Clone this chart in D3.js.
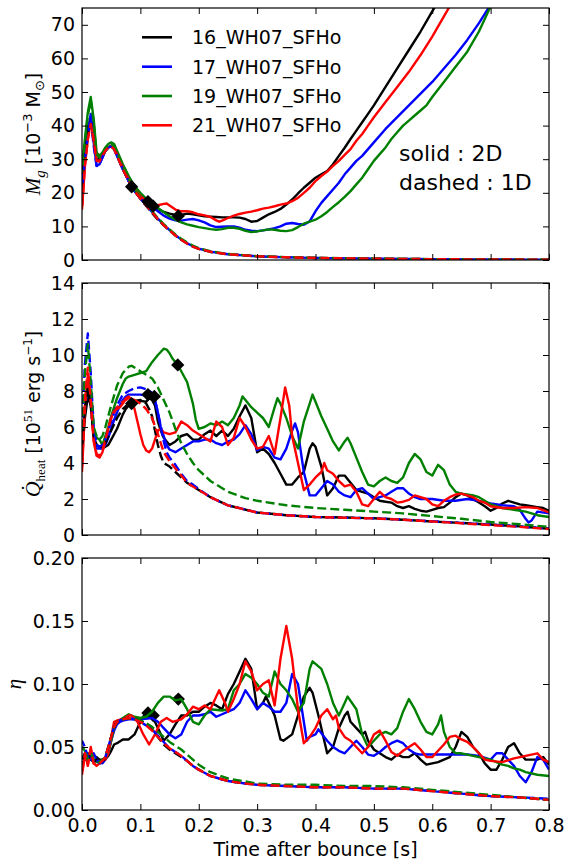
<!DOCTYPE html>
<html><head><meta charset="utf-8">
<script src="https://cdn.jsdelivr.net/npm/d3@7"></script>
<style>
body{margin:0;background:#fff;}
svg{display:block;font-family:"DejaVu Sans",sans-serif;}
</style></head><body>
<svg id="chart" width="565" height="862"></svg>
<script>
// ---------- data ----------
const models = ["16_WH07_SFHo", "17_WH07_SFHo", "19_WH07_SFHo", "21_WH07_SFHo"];
const colors = ["#000000", "#0000ff", "#008000", "#ff0000"];

const xTicks = [0, 0.1, 0.2, 0.3, 0.4, 0.5, 0.6, 0.7, 0.8];
const mgTicks = [0, 10, 20, 30, 40, 50, 60, 70];
const qTicks = [0, 2, 4, 6, 8, 10, 12, 14];
const etaTicks = [0, 0.05, 0.10, 0.15, 0.20];

// Gain mass M_g [1e-3 Msun], 2D runs
const mg2D_16 = [[0,25],[0.005,33],[0.01,39],[0.015,42],[0.02,36],[0.025,30],[0.03,30],[0.035,31],[0.04,32.5],[0.045,33.5],[0.05,34],[0.055,33.5],[0.06,31.5],[0.07,27.5],[0.08,23.5],[0.085,22],[0.09,20.8],[0.1,19],[0.11,17.8],[0.115,17],[0.12,16.3],[0.13,15.2],[0.14,14.3],[0.15,13.8],[0.16,13.4],[0.165,13.2],[0.17,13.4],[0.18,13.8],[0.19,13.6],[0.2,13.3],[0.21,13],[0.22,12.9],[0.23,12.8],[0.24,12.7],[0.25,12.7],[0.26,12.7],[0.27,12.6],[0.28,12.2],[0.29,11.4],[0.3,11.6],[0.31,12.6],[0.32,13.6],[0.33,14.3],[0.34,15.2],[0.35,16.5],[0.36,18],[0.37,19.8],[0.38,21.5],[0.39,23],[0.4,24.5],[0.41,25.5],[0.42,26.5],[0.43,28.5],[0.44,31],[0.45,33.4],[0.46,36],[0.47,38.5],[0.48,41],[0.49,43.5],[0.5,46],[0.52,51.5],[0.54,57],[0.56,62.5],[0.58,68],[0.6,74],[0.61,77]];
const mg2D_17 = [[0,22],[0.005,30],[0.01,38],[0.015,43.5],[0.02,35],[0.025,28],[0.03,28.5],[0.035,30.5],[0.04,32.5],[0.045,33.5],[0.05,34],[0.055,33],[0.06,31],[0.07,27],[0.08,23.5],[0.09,20.5],[0.1,18.5],[0.11,17],[0.12,16],[0.13,14.5],[0.14,13.2],[0.15,12.3],[0.16,11.8],[0.17,11.7],[0.18,12],[0.19,12.2],[0.2,11.8],[0.21,11.2],[0.22,10.3],[0.23,9.8],[0.24,9.9],[0.25,10],[0.26,10],[0.27,9.6],[0.28,9],[0.29,8.7],[0.3,8.6],[0.31,8.8],[0.32,9.1],[0.33,9.5],[0.34,10],[0.35,10.8],[0.36,11],[0.37,10.7],[0.38,10.5],[0.39,11.5],[0.4,14.5],[0.41,17],[0.42,19],[0.43,21],[0.44,23],[0.45,25.5],[0.46,27.5],[0.47,29.5],[0.48,31],[0.49,33],[0.5,35],[0.52,39],[0.54,42.5],[0.56,46],[0.58,49.5],[0.6,53],[0.62,57],[0.64,61],[0.66,65.5],[0.68,70.5],[0.7,76]];
const mg2D_19 = [[0,28],[0.005,36],[0.01,44],[0.015,48.5],[0.02,42],[0.025,32],[0.03,31],[0.035,32],[0.04,33.5],[0.045,34.5],[0.05,35],[0.055,34.5],[0.06,32.5],[0.07,28.5],[0.08,25],[0.09,22],[0.1,20],[0.11,18.2],[0.12,16.8],[0.13,15.5],[0.14,14.2],[0.15,13],[0.16,12],[0.17,11.2],[0.18,10.6],[0.19,10.2],[0.2,9.8],[0.21,9.5],[0.22,9.2],[0.23,9],[0.24,9.2],[0.25,9.6],[0.26,9.6],[0.27,9.3],[0.28,8.7],[0.29,8.3],[0.3,8.5],[0.31,8.8],[0.32,9.1],[0.33,9],[0.34,8.7],[0.35,8.6],[0.36,8.9],[0.37,9.8],[0.38,10.8],[0.39,11.4],[0.4,12],[0.41,13],[0.42,14.3],[0.43,15.8],[0.44,17.2],[0.45,18.8],[0.46,20.5],[0.47,22.5],[0.48,24.5],[0.49,27],[0.5,29.5],[0.51,31.5],[0.52,33.5],[0.53,36],[0.54,38],[0.55,40],[0.56,41.5],[0.57,43],[0.58,44.5],[0.59,46],[0.6,48.5],[0.62,53],[0.64,57.5],[0.66,62],[0.68,68],[0.7,75.5]];
const mg2D_21 = [[0,15],[0.005,28],[0.01,36],[0.015,41],[0.02,36],[0.025,30],[0.03,29.5],[0.035,31],[0.04,32.5],[0.045,33.5],[0.05,34],[0.055,33.5],[0.06,31.5],[0.07,27.5],[0.08,24],[0.09,21],[0.1,19],[0.11,17.5],[0.12,16.5],[0.13,16.3],[0.14,16.7],[0.145,16.8],[0.15,16.2],[0.16,15],[0.17,14.5],[0.18,14.5],[0.19,14.2],[0.2,13.6],[0.21,13.3],[0.22,12.8],[0.23,11.8],[0.235,11.4],[0.24,11.7],[0.25,12.5],[0.26,13.2],[0.27,13.7],[0.28,14.1],[0.29,14.4],[0.3,14.8],[0.31,15.3],[0.32,15.6],[0.33,16],[0.34,16.5],[0.35,16.8],[0.36,17.5],[0.37,18.5],[0.38,20],[0.39,21.5],[0.4,23.5],[0.41,25],[0.42,26.3],[0.43,28],[0.44,29.5],[0.45,31.3],[0.46,33],[0.47,35.5],[0.48,37.5],[0.49,40],[0.5,42.5],[0.52,47],[0.54,51.5],[0.56,56],[0.58,61],[0.6,66.5],[0.62,72.5],[0.63,75.5]];

// Gain mass, 1D runs
const mg1D_16 = [[0,22],[0.005,31],[0.01,38],[0.015,41.5],[0.02,35.5],[0.025,29.5],[0.03,29.5],[0.035,31],[0.04,32.5],[0.045,33.5],[0.05,33.8],[0.055,33],[0.06,31],[0.07,27],[0.08,23.5],[0.09,20.5],[0.1,18.2],[0.11,16.1],[0.12,14],[0.13,12],[0.14,10.3],[0.15,8.8],[0.16,7.3],[0.17,6],[0.18,4.9],[0.19,4],[0.2,3.3],[0.22,2.4],[0.25,1.7],[0.3,1.1],[0.35,0.8],[0.4,0.6],[0.5,0.4],[0.6,0.25],[0.7,0.15],[0.8,0.1]];
const mg1D_17 = [[0,20],[0.005,30],[0.01,37],[0.015,42],[0.02,34],[0.025,28],[0.03,28.5],[0.035,30.5],[0.04,32.5],[0.045,33.5],[0.05,33.8],[0.055,33],[0.06,31],[0.07,27],[0.08,23.5],[0.09,20.5],[0.1,18.3],[0.11,16.3],[0.12,14.3],[0.13,12.3],[0.14,10.5],[0.15,8.9],[0.16,7.4],[0.17,6.1],[0.18,5],[0.19,4.1],[0.2,3.4],[0.22,2.5],[0.25,1.7],[0.3,1.1],[0.35,0.8],[0.4,0.6],[0.5,0.4],[0.6,0.25],[0.7,0.15],[0.8,0.1]];
const mg1D_19 = [[0,26],[0.005,35],[0.01,43],[0.015,47.5],[0.02,41],[0.025,31.5],[0.03,30.5],[0.035,31.8],[0.04,33.2],[0.045,34.2],[0.05,34.5],[0.055,33.8],[0.06,31.8],[0.07,27.8],[0.08,24],[0.09,21],[0.1,18.6],[0.11,16.5],[0.12,14.5],[0.13,12.5],[0.14,10.7],[0.15,9.1],[0.16,7.6],[0.17,6.3],[0.18,5.2],[0.19,4.3],[0.2,3.5],[0.22,2.6],[0.25,1.8],[0.3,1.15],[0.35,0.85],[0.4,0.65],[0.5,0.42],[0.6,0.27],[0.7,0.16],[0.8,0.1]];
const mg1D_21 = [[0,15],[0.005,28],[0.01,36],[0.015,40.5],[0.02,35.5],[0.025,29.5],[0.03,29.3],[0.035,31],[0.04,32.5],[0.045,33.5],[0.05,33.8],[0.055,33],[0.06,31],[0.07,27],[0.08,23.5],[0.09,20.5],[0.1,18.3],[0.11,16.3],[0.12,14.2],[0.13,12.2],[0.14,10.4],[0.15,8.8],[0.16,7.3],[0.17,6],[0.18,4.9],[0.19,4],[0.2,3.3],[0.22,2.45],[0.25,1.7],[0.3,1.1],[0.35,0.8],[0.4,0.6],[0.5,0.4],[0.6,0.25],[0.7,0.15],[0.8,0.1]];

// Heating rate [1e51 erg/s], 2D runs
const q2D_16 = [[0,4.5],[0.005,6.5],[0.01,7.7],[0.015,7.2],[0.02,5.5],[0.025,5],[0.03,4.9],[0.035,4.8],[0.04,4.9],[0.045,5],[0.05,5.3],[0.055,5.6],[0.06,5.9],[0.065,6.3],[0.07,6.7],[0.075,7],[0.08,7.2],[0.085,7.3],[0.09,7.4],[0.1,7.45],[0.11,7.4],[0.115,7.6],[0.12,7.5],[0.125,7.2],[0.13,6.3],[0.135,5.8],[0.14,5.4],[0.145,5.2],[0.15,5],[0.16,5.2],[0.17,5.5],[0.18,5.6],[0.19,5.3],[0.2,5.3],[0.21,5.6],[0.22,5.8],[0.23,5.5],[0.24,5.8],[0.25,5.5],[0.26,5.9],[0.27,6.6],[0.28,7.2],[0.29,6.5],[0.3,4.6],[0.31,4.8],[0.32,4.5],[0.33,4],[0.34,3.4],[0.35,2.8],[0.36,2.8],[0.37,3.2],[0.38,3.5],[0.39,4.8],[0.395,5.1],[0.4,4.9],[0.41,3.8],[0.42,2.2],[0.43,2.6],[0.44,3.3],[0.45,3.3],[0.46,2.9],[0.47,2.5],[0.48,2.4],[0.49,2.3],[0.5,2.1],[0.51,1.9],[0.52,1.85],[0.53,1.8],[0.54,1.6],[0.55,1.5],[0.56,1.6],[0.57,1.45],[0.58,1.35],[0.59,1.3],[0.6,1.4],[0.61,1.5],[0.62,1.55],[0.63,1.8],[0.64,2.1],[0.65,2.3],[0.66,2.2],[0.67,2],[0.68,1.8],[0.69,1.6],[0.7,1.35],[0.71,1.5],[0.72,1.75],[0.73,1.9],[0.74,1.8],[0.75,1.7],[0.76,1.65],[0.77,1.6],[0.78,1.55],[0.79,1.5],[0.8,1.35]];
const q2D_17 = [[0,5],[0.005,7],[0.01,8.3],[0.015,7.5],[0.02,5.5],[0.025,4.8],[0.03,4.8],[0.035,4.8],[0.04,5],[0.045,5.4],[0.05,5.9],[0.055,6.4],[0.06,6.8],[0.065,7.2],[0.07,7.5],[0.075,7.7],[0.08,7.8],[0.09,7.8],[0.1,7.8],[0.11,7.75],[0.12,7.7],[0.125,7.5],[0.13,6.8],[0.135,6],[0.14,5.5],[0.145,5],[0.15,4.75],[0.16,4.6],[0.17,4.8],[0.18,5],[0.19,5.2],[0.2,5.2],[0.21,5.3],[0.22,5.3],[0.23,5.1],[0.24,5],[0.25,5.2],[0.26,5.3],[0.27,5.6],[0.28,6.1],[0.29,5.6],[0.3,4.7],[0.31,4.9],[0.32,4.8],[0.33,4.3],[0.34,4.2],[0.35,4.8],[0.36,5.8],[0.365,6.2],[0.37,5.7],[0.38,3.5],[0.39,2.2],[0.4,2.2],[0.41,2.6],[0.42,3],[0.43,2.8],[0.44,2.4],[0.45,2.2],[0.46,2.1],[0.47,2.5],[0.48,2.6],[0.49,2.3],[0.5,2],[0.51,2.1],[0.52,2.2],[0.53,2.4],[0.54,2.6],[0.55,2.6],[0.56,2.3],[0.57,2.1],[0.58,2],[0.6,2],[0.62,1.9],[0.64,1.9],[0.66,2],[0.68,1.9],[0.7,1.75],[0.72,1.65],[0.74,1.6],[0.75,1.4],[0.76,0.9],[0.765,0.7],[0.77,0.8],[0.78,1.3],[0.8,1.2]];
const q2D_19 = [[0,4.8],[0.005,7],[0.01,8.6],[0.015,7.5],[0.02,5.8],[0.025,5.4],[0.03,5.3],[0.035,5],[0.04,5.5],[0.045,6],[0.05,6.6],[0.055,7.1],[0.06,7.6],[0.065,8],[0.07,8.4],[0.075,8.7],[0.08,8.8],[0.09,8.9],[0.1,9],[0.11,9.1],[0.12,9.6],[0.13,10],[0.14,10.35],[0.145,10.3],[0.15,10.1],[0.155,9.8],[0.165,9.4],[0.17,9.1],[0.18,8.5],[0.19,7.3],[0.195,6.4],[0.2,5.9],[0.21,6],[0.22,6.2],[0.23,6.1],[0.24,6.3],[0.25,6.1],[0.26,6.5],[0.27,7.2],[0.275,7.7],[0.28,7.5],[0.29,7.1],[0.3,6.8],[0.31,6.5],[0.32,6],[0.33,7.1],[0.335,7.6],[0.34,7.3],[0.35,6.5],[0.36,5.5],[0.37,4.8],[0.38,6.3],[0.39,7.3],[0.395,7.8],[0.4,7.4],[0.41,6.6],[0.42,5.9],[0.43,5.2],[0.44,4.7],[0.45,5.2],[0.455,5.4],[0.46,5.1],[0.47,4.3],[0.48,3.5],[0.49,2.8],[0.5,2.7],[0.51,3],[0.52,3.2],[0.53,3],[0.54,2.9],[0.55,3.2],[0.56,4],[0.57,4.5],[0.58,4.2],[0.59,3.5],[0.6,3.3],[0.61,3.9],[0.62,3.6],[0.63,2.8],[0.64,2.4],[0.65,2.3],[0.66,2.25],[0.67,2.2],[0.68,2.1],[0.69,1.9],[0.7,1.7],[0.72,1.5],[0.74,1.4],[0.76,1.3],[0.78,1.1],[0.8,1]];
const q2D_21 = [[0,3.5],[0.005,7],[0.01,8.9],[0.015,7.5],[0.02,5.2],[0.025,4.4],[0.03,4.3],[0.035,4.6],[0.04,5.2],[0.045,5.9],[0.05,6.5],[0.055,6.9],[0.06,7],[0.065,7.1],[0.07,7.3],[0.075,7.6],[0.08,7.7],[0.085,7.5],[0.09,7],[0.095,6.3],[0.1,5.6],[0.105,5],[0.11,4.7],[0.115,4.6],[0.12,4.8],[0.125,5.3],[0.13,5.8],[0.135,5.9],[0.14,5.7],[0.15,5.6],[0.16,5.7],[0.17,6.3],[0.18,6.1],[0.19,5.8],[0.2,5.6],[0.21,5.4],[0.22,5.2],[0.23,6.3],[0.24,6],[0.25,5],[0.26,5.4],[0.27,6.5],[0.28,6],[0.29,5.3],[0.3,4.8],[0.31,4.9],[0.32,5.5],[0.33,4.5],[0.34,6.5],[0.348,8.2],[0.355,7.2],[0.36,5.5],[0.37,4],[0.38,2.5],[0.39,2.8],[0.4,3.2],[0.41,3.5],[0.415,4],[0.42,3.6],[0.43,3.4],[0.44,3],[0.45,2.7],[0.46,2.8],[0.47,2.4],[0.48,1.7],[0.49,1.6],[0.5,2],[0.51,2.4],[0.52,2.1],[0.53,2],[0.54,1.8],[0.55,1.85],[0.56,1.95],[0.57,2.2],[0.58,2.1],[0.59,2],[0.6,1.7],[0.61,1.6],[0.62,1.9],[0.63,2.1],[0.64,2.25],[0.65,2.3],[0.66,2.2],[0.67,2.1],[0.68,1.9],[0.69,1.8],[0.7,1.6],[0.72,1.5],[0.74,1.5],[0.76,1.55],[0.78,1.5],[0.8,1.25]];

// Heating rate, 1D runs
const q1D_16 = [[0,4.8],[0.005,7],[0.01,8.2],[0.015,7.2],[0.02,5.5],[0.025,5],[0.03,4.9],[0.035,4.9],[0.04,5.1],[0.05,5.8],[0.06,6.5],[0.07,7],[0.08,7.3],[0.09,7.45],[0.1,7.5],[0.11,7.3],[0.115,7],[0.12,6.6],[0.125,5.8],[0.13,5],[0.135,4.4],[0.14,4],[0.145,3.9],[0.15,3.8],[0.16,3.5],[0.17,3.2],[0.18,2.9],[0.19,2.7],[0.2,2.5],[0.22,2.1],[0.25,1.65],[0.3,1.25],[0.35,1.1],[0.4,1],[0.45,0.97],[0.5,0.93],[0.55,0.85],[0.6,0.75],[0.65,0.67],[0.7,0.58],[0.75,0.48],[0.8,0.35]];
const q1D_17 = [[0,6],[0.005,9.5],[0.01,11.2],[0.015,9],[0.02,6],[0.025,5],[0.03,4.9],[0.035,5],[0.04,5.3],[0.05,6.3],[0.06,7.2],[0.07,7.8],[0.08,8],[0.09,8.15],[0.1,8.2],[0.11,8.1],[0.12,7.9],[0.125,7.5],[0.13,6.8],[0.135,6],[0.14,5.2],[0.145,4.6],[0.15,4.3],[0.16,3.9],[0.17,3.4],[0.18,3],[0.19,2.8],[0.2,2.55],[0.22,2.1],[0.25,1.65],[0.3,1.25],[0.35,1.1],[0.4,1],[0.45,0.96],[0.5,0.93],[0.55,0.85],[0.6,0.76],[0.65,0.67],[0.7,0.58],[0.75,0.47],[0.8,0.36]];
const q1D_19 = [[0,5.5],[0.005,9],[0.01,10.6],[0.015,8.5],[0.02,6],[0.025,5.5],[0.03,5.3],[0.035,5.5],[0.04,6],[0.05,7.2],[0.06,8.3],[0.07,9],[0.08,9.35],[0.085,9.4],[0.09,9.3],[0.1,9.1],[0.11,8.9],[0.12,8.7],[0.13,8.2],[0.14,7.5],[0.15,6.8],[0.16,5.9],[0.17,5.1],[0.18,4.5],[0.19,4],[0.2,3.6],[0.22,3],[0.25,2.4],[0.28,2.05],[0.3,1.9],[0.35,1.65],[0.4,1.5],[0.45,1.4],[0.5,1.3],[0.55,1.2],[0.6,1.05],[0.65,0.9],[0.7,0.72],[0.75,0.6],[0.8,0.45]];
const q1D_21 = [[0,3.6],[0.005,7.5],[0.01,9.3],[0.015,7.5],[0.02,5.3],[0.025,4.5],[0.03,4.4],[0.035,4.7],[0.04,5.3],[0.05,6.5],[0.06,7.1],[0.07,7.4],[0.08,7.6],[0.09,7.5],[0.1,7.3],[0.11,7],[0.12,6.5],[0.13,5.6],[0.14,4.6],[0.15,4.1],[0.16,3.7],[0.17,3.3],[0.18,2.9],[0.19,2.7],[0.2,2.5],[0.22,2.1],[0.25,1.65],[0.3,1.25],[0.35,1.1],[0.4,1],[0.45,0.96],[0.5,0.92],[0.55,0.85],[0.6,0.75],[0.65,0.65],[0.7,0.55],[0.75,0.45],[0.8,0.33]];

// Heating efficiency eta, 2D runs
const eta2D_16 = [[0,0.037],[0.005,0.04],[0.01,0.045],[0.015,0.04],[0.02,0.038],[0.025,0.042],[0.03,0.04],[0.035,0.04],[0.04,0.04],[0.045,0.043],[0.05,0.047],[0.055,0.052],[0.06,0.053],[0.07,0.056],[0.08,0.056],[0.09,0.06],[0.1,0.07],[0.11,0.078],[0.12,0.075],[0.13,0.065],[0.14,0.055],[0.15,0.06],[0.16,0.068],[0.17,0.075],[0.18,0.075],[0.19,0.078],[0.2,0.078],[0.21,0.082],[0.22,0.085],[0.23,0.083],[0.24,0.08],[0.25,0.092],[0.26,0.1],[0.27,0.11],[0.28,0.12],[0.29,0.112],[0.3,0.08],[0.31,0.085],[0.315,0.09],[0.33,0.075],[0.34,0.056],[0.345,0.055],[0.36,0.06],[0.37,0.075],[0.38,0.09],[0.39,0.097],[0.395,0.093],[0.405,0.075],[0.415,0.055],[0.42,0.045],[0.43,0.05],[0.44,0.065],[0.45,0.075],[0.455,0.078],[0.46,0.07],[0.47,0.065],[0.48,0.06],[0.485,0.062],[0.49,0.055],[0.5,0.048],[0.51,0.045],[0.52,0.042],[0.53,0.04],[0.54,0.044],[0.55,0.042],[0.56,0.042],[0.57,0.045],[0.58,0.04],[0.59,0.036],[0.6,0.037],[0.61,0.038],[0.62,0.04],[0.63,0.042],[0.64,0.05],[0.65,0.062],[0.66,0.058],[0.67,0.05],[0.68,0.045],[0.69,0.037],[0.7,0.032],[0.71,0.032],[0.72,0.04],[0.73,0.05],[0.74,0.053],[0.75,0.045],[0.76,0.04],[0.78,0.04],[0.79,0.042],[0.8,0.036]];
const eta2D_17 = [[0,0.043],[0.005,0.04],[0.01,0.043],[0.015,0.04],[0.02,0.045],[0.025,0.04],[0.03,0.038],[0.035,0.037],[0.04,0.04],[0.045,0.045],[0.05,0.055],[0.055,0.063],[0.06,0.068],[0.065,0.07],[0.07,0.071],[0.08,0.072],[0.1,0.072],[0.12,0.073],[0.13,0.07],[0.14,0.065],[0.15,0.06],[0.16,0.057],[0.17,0.06],[0.18,0.07],[0.19,0.075],[0.2,0.075],[0.21,0.076],[0.22,0.078],[0.23,0.074],[0.24,0.076],[0.25,0.078],[0.26,0.08],[0.27,0.085],[0.28,0.095],[0.29,0.088],[0.3,0.08],[0.31,0.085],[0.32,0.082],[0.33,0.078],[0.34,0.078],[0.35,0.085],[0.36,0.108],[0.37,0.1],[0.38,0.07],[0.385,0.055],[0.39,0.058],[0.4,0.06],[0.405,0.064],[0.42,0.055],[0.43,0.05],[0.44,0.047],[0.45,0.045],[0.46,0.05],[0.47,0.055],[0.48,0.05],[0.49,0.044],[0.5,0.043],[0.51,0.046],[0.52,0.05],[0.53,0.053],[0.54,0.055],[0.55,0.053],[0.56,0.048],[0.57,0.045],[0.58,0.044],[0.6,0.044],[0.62,0.044],[0.64,0.044],[0.66,0.044],[0.68,0.043],[0.7,0.04],[0.71,0.045],[0.72,0.045],[0.73,0.04],[0.74,0.035],[0.75,0.027],[0.76,0.022],[0.77,0.03],[0.78,0.042],[0.79,0.04],[0.8,0.032]];
const eta2D_19 = [[0,0.05],[0.005,0.047],[0.01,0.04],[0.015,0.045],[0.02,0.04],[0.025,0.038],[0.03,0.038],[0.035,0.04],[0.04,0.041],[0.045,0.045],[0.05,0.055],[0.055,0.065],[0.06,0.07],[0.07,0.073],[0.08,0.076],[0.09,0.074],[0.1,0.073],[0.11,0.074],[0.12,0.078],[0.13,0.085],[0.14,0.09],[0.15,0.09],[0.16,0.087],[0.17,0.088],[0.18,0.08],[0.19,0.07],[0.2,0.068],[0.21,0.075],[0.22,0.08],[0.24,0.079],[0.25,0.08],[0.26,0.095],[0.27,0.1],[0.28,0.108],[0.29,0.105],[0.3,0.1],[0.31,0.093],[0.32,0.09],[0.33,0.11],[0.34,0.1],[0.35,0.095],[0.36,0.088],[0.37,0.078],[0.38,0.085],[0.39,0.112],[0.395,0.118],[0.41,0.112],[0.42,0.1],[0.43,0.085],[0.44,0.075],[0.45,0.085],[0.455,0.09],[0.47,0.08],[0.48,0.06],[0.49,0.05],[0.5,0.055],[0.51,0.06],[0.52,0.062],[0.53,0.06],[0.54,0.065],[0.55,0.078],[0.56,0.088],[0.57,0.08],[0.58,0.07],[0.59,0.062],[0.6,0.06],[0.61,0.068],[0.615,0.075],[0.62,0.062],[0.63,0.05],[0.64,0.045],[0.65,0.045],[0.66,0.044],[0.68,0.042],[0.7,0.04],[0.71,0.038],[0.72,0.036],[0.73,0.035],[0.74,0.033],[0.75,0.032],[0.76,0.03],[0.78,0.028],[0.8,0.027]];
const eta2D_21 = [[0,0.028],[0.005,0.045],[0.01,0.035],[0.015,0.05],[0.02,0.037],[0.025,0.035],[0.03,0.037],[0.035,0.04],[0.04,0.04],[0.045,0.045],[0.05,0.058],[0.055,0.07],[0.06,0.071],[0.07,0.072],[0.08,0.075],[0.085,0.075],[0.095,0.07],[0.105,0.06],[0.115,0.052],[0.125,0.06],[0.135,0.07],[0.145,0.073],[0.155,0.07],[0.17,0.072],[0.18,0.076],[0.19,0.082],[0.2,0.08],[0.21,0.083],[0.22,0.08],[0.23,0.09],[0.235,0.095],[0.245,0.085],[0.25,0.078],[0.26,0.088],[0.27,0.1],[0.28,0.118],[0.29,0.11],[0.3,0.095],[0.31,0.1],[0.32,0.103],[0.33,0.083],[0.34,0.12],[0.35,0.146],[0.36,0.12],[0.37,0.08],[0.38,0.053],[0.39,0.058],[0.4,0.065],[0.41,0.075],[0.42,0.08],[0.43,0.072],[0.435,0.075],[0.44,0.065],[0.45,0.058],[0.46,0.055],[0.47,0.05],[0.48,0.045],[0.49,0.05],[0.5,0.06],[0.51,0.063],[0.52,0.055],[0.53,0.046],[0.54,0.043],[0.55,0.047],[0.56,0.05],[0.57,0.053],[0.58,0.048],[0.59,0.042],[0.6,0.042],[0.61,0.047],[0.62,0.052],[0.63,0.058],[0.64,0.059],[0.65,0.056],[0.66,0.054],[0.67,0.05],[0.68,0.045],[0.69,0.04],[0.7,0.039],[0.72,0.038],[0.74,0.041],[0.76,0.043],[0.78,0.045],[0.79,0.04],[0.8,0.038]];

// Heating efficiency, 1D runs
const eta1D_16 = [[0,0.04],[0.005,0.045],[0.01,0.04],[0.015,0.045],[0.02,0.038],[0.025,0.04],[0.03,0.037],[0.035,0.038],[0.04,0.042],[0.045,0.05],[0.05,0.058],[0.055,0.066],[0.06,0.07],[0.07,0.072],[0.08,0.073],[0.09,0.072],[0.1,0.071],[0.11,0.068],[0.12,0.064],[0.13,0.058],[0.14,0.052],[0.15,0.048],[0.16,0.045],[0.17,0.042],[0.18,0.039],[0.19,0.035],[0.2,0.032],[0.22,0.027],[0.25,0.023],[0.28,0.021],[0.3,0.02],[0.35,0.019],[0.4,0.018],[0.45,0.018],[0.5,0.017],[0.55,0.017],[0.6,0.015],[0.65,0.013],[0.7,0.011],[0.75,0.01],[0.8,0.008]];
const eta1D_17 = [[0,0.055],[0.005,0.05],[0.01,0.042],[0.015,0.045],[0.02,0.038],[0.025,0.04],[0.03,0.037],[0.035,0.038],[0.04,0.042],[0.045,0.05],[0.05,0.058],[0.055,0.066],[0.06,0.07],[0.07,0.072],[0.08,0.073],[0.09,0.072],[0.1,0.07],[0.11,0.067],[0.12,0.064],[0.13,0.059],[0.14,0.054],[0.15,0.049],[0.16,0.046],[0.17,0.043],[0.18,0.039],[0.19,0.035],[0.2,0.032],[0.22,0.027],[0.25,0.023],[0.28,0.021],[0.3,0.02],[0.35,0.019],[0.4,0.018],[0.45,0.018],[0.5,0.017],[0.55,0.017],[0.6,0.015],[0.65,0.013],[0.7,0.011],[0.75,0.01],[0.8,0.009]];
const eta1D_19 = [[0,0.05],[0.005,0.047],[0.01,0.04],[0.015,0.045],[0.02,0.04],[0.025,0.038],[0.03,0.038],[0.035,0.04],[0.04,0.042],[0.045,0.05],[0.05,0.058],[0.055,0.066],[0.06,0.07],[0.07,0.072],[0.08,0.073],[0.09,0.072],[0.1,0.071],[0.11,0.069],[0.12,0.066],[0.13,0.062],[0.14,0.058],[0.15,0.054],[0.16,0.051],[0.17,0.048],[0.18,0.044],[0.19,0.04],[0.2,0.036],[0.22,0.03],[0.25,0.025],[0.3,0.021],[0.35,0.02],[0.4,0.02],[0.45,0.019],[0.5,0.019],[0.55,0.018],[0.6,0.016],[0.65,0.014],[0.7,0.012],[0.75,0.01],[0.8,0.008]];
const eta1D_21 = [[0,0.028],[0.005,0.045],[0.01,0.036],[0.015,0.048],[0.02,0.037],[0.025,0.036],[0.03,0.037],[0.035,0.039],[0.04,0.042],[0.045,0.05],[0.05,0.058],[0.055,0.066],[0.06,0.07],[0.07,0.072],[0.08,0.073],[0.09,0.072],[0.1,0.07],[0.11,0.067],[0.12,0.063],[0.13,0.058],[0.14,0.053],[0.15,0.049],[0.16,0.046],[0.17,0.043],[0.18,0.039],[0.19,0.035],[0.2,0.032],[0.22,0.027],[0.25,0.023],[0.28,0.021],[0.3,0.02],[0.35,0.019],[0.4,0.018],[0.45,0.018],[0.5,0.017],[0.55,0.017],[0.6,0.015],[0.65,0.013],[0.7,0.011],[0.75,0.01],[0.8,0.008]];

// Shock revival markers (time, value) per quantity
const mgMarkers = [[0.085, 21.8], [0.113, 17.4], [0.122, 16.0], [0.165, 13.1]];
const qMarkers = [[0.085, 7.3], [0.113, 7.8], [0.124, 7.7], [0.164, 9.45]];
const etaMarkers = [[0.113, 0.077], [0.122, 0.075], [0.165, 0.088]];

// ---------- layout ----------
const svg = d3.select("#chart");
const L = 82, R = 549;
const x = d3.scaleLinear().domain([0, 0.8]).range([L, R]);

const panels = [
  { top: 8,   bottom: 260, domain: [0, 75],  ticks: mgTicks,  fmt: d3.format("d"),
    solid: [mg2D_16, mg2D_17, mg2D_19, mg2D_21], dashed: [mg1D_16, mg1D_17, mg1D_19, mg1D_21],
    markers: mgMarkers, markersOnTop: true },
  { top: 283, bottom: 535, domain: [0, 14],  ticks: qTicks,   fmt: d3.format("d"),
    solid: [q2D_16, q2D_17, q2D_19, q2D_21], dashed: [q1D_16, q1D_17, q1D_19, q1D_21],
    markers: qMarkers, markersOnTop: true },
  { top: 558, bottom: 810, domain: [0, 0.2], ticks: etaTicks, fmt: d3.format(".2f"),
    solid: [eta2D_16, eta2D_17, eta2D_19, eta2D_21], dashed: [eta1D_16, eta1D_17, eta1D_19, eta1D_21],
    markers: etaMarkers, markersOnTop: false }
];

const FS = 19;
const diamond = d3.symbol().type(d3.symbolSquare).size(88);

panels.forEach((p, i) => {
  const y = d3.scaleLinear().domain(p.domain).range([p.bottom, p.top]);
  const g = svg.append("g");
  const clipId = "clip" + i;
  svg.append("clipPath").attr("id", clipId).append("rect")
    .attr("x", L).attr("y", p.top).attr("width", R - L).attr("height", p.bottom - p.top);

  const line = d3.line().x(d => x(d[0])).y(d => y(d[1]));
  const plot = g.append("g").attr("clip-path", `url(#${clipId})`);

  const drawMarkers = () => {
    plot.selectAll(null).data(p.markers).join("path")
      .attr("d", diamond)
      .attr("transform", d => `translate(${x(d[0])},${y(d[1])}) rotate(45)`)
      .attr("fill", "#000");
  };
  if (!p.markersOnTop) drawMarkers();

  models.forEach((m, k) => {
    plot.append("path").datum(p.solid[k]).attr("d", line)
      .attr("fill", "none").attr("stroke", colors[k]).attr("stroke-width", 2.4)
      .attr("stroke-linejoin", "round");
  });
  models.forEach((m, k) => {
    plot.append("path").datum(p.dashed[k]).attr("d", line)
      .attr("fill", "none").attr("stroke", colors[k]).attr("stroke-width", 2.4)
      .attr("stroke-dasharray", "9,4").attr("stroke-dashoffset", k * 3)
      .attr("stroke-linejoin", "round");
  });
  if (p.markersOnTop) drawMarkers();

  // axes with inward ticks on all four sides
  const isLast = i === panels.length - 1;
  const ax = [
    g.append("g").attr("transform", `translate(${L},0)`)
      .call(d3.axisLeft(y).tickValues(p.ticks).tickSize(-6).tickPadding(7).tickFormat(p.fmt)),
    g.append("g").attr("transform", `translate(${R},0)`)
      .call(d3.axisRight(y).tickValues(p.ticks).tickSize(-6).tickFormat("")),
    g.append("g").attr("transform", `translate(0,${p.top})`)
      .call(d3.axisTop(x).tickValues(xTicks).tickSize(-6).tickFormat("")),
    g.append("g").attr("transform", `translate(0,${p.bottom})`)
      .call(d3.axisBottom(x).tickValues(xTicks).tickSize(-6).tickPadding(9)
        .tickFormat(isLast ? d3.format(".1f") : ""))
  ];
  ax.forEach(a => {
    a.select(".domain").remove();
    a.selectAll("line").attr("stroke", "#000").attr("stroke-width", 1);
    a.selectAll("text").attr("font-size", FS).attr("fill", "#000")
      .attr("font-family", "DejaVu Sans");
  });

  g.append("rect").attr("x", L).attr("y", p.top).attr("width", R - L)
    .attr("height", p.bottom - p.top).attr("fill", "none")
    .attr("stroke", "#000").attr("stroke-width", 1.2);
});

// ---------- y-axis labels ----------
function ylabel(cx, cy, parts) {
  const t = svg.append("text").attr("transform", `translate(${cx},${cy}) rotate(-90)`)
    .attr("text-anchor", "middle").attr("font-size", FS).attr("fill", "#000");
  parts.forEach(pt => {
    const s = t.append("tspan").text(pt.t);
    if (pt.serif) s.attr("font-family", "Liberation Serif");
    if (pt.it) s.attr("font-style", "italic");
    if (pt.fs) s.attr("font-size", pt.fs);
    if (pt.dy) s.attr("dy", pt.dy);
  });
}
ylabel(40, 134, [
  { t: "M", serif: true, it: true, fs: 21 },
  { t: "g", serif: true, it: true, fs: 15, dy: 5 },
  { t: " [10", dy: -5 },
  { t: "\u22123", fs: 13, dy: -8 },
  { t: " M", dy: 8 },
  { t: "\u2299", fs: 13, dy: 4 },
  { t: "]", dy: -4 }
]);
ylabel(40, 414, [
  { t: "Q\u0307", serif: true, it: true, fs: 22 },
  { t: "heat", serif: true, fs: 13, dy: 5 },
  { t: " [10", dy: -5 },
  { t: "51", serif: true, fs: 13, dy: -8 },
  { t: " erg s", dy: 8 },
  { t: "\u22121", fs: 12, dy: -8 },
  { t: "]", dy: 8 }
]);
ylabel(21, 684, [{ t: "\u03b7", serif: true, it: true, fs: 21 }]);

// ---------- x-axis label ----------
svg.append("text").attr("x", (L + R) / 2).attr("y", 856).attr("text-anchor", "middle")
  .attr("font-size", FS).text("Time after bounce [s]");

// ---------- legend ----------
const legendRows = [37.3, 66.7, 96, 125.3];
models.forEach((m, k) => {
  svg.append("line").attr("x1", 142).attr("x2", 172)
    .attr("y1", legendRows[k]).attr("y2", legendRows[k])
    .attr("stroke", colors[k]).attr("stroke-width", 2.6);
  svg.append("text").attr("x", 192).attr("y", legendRows[k] + 7)
    .attr("font-size", FS).text(m);
});

// ---------- annotation ----------
svg.append("text").attr("x", 399).attr("y", 161).attr("font-size", 22).text("solid : 2D");
svg.append("text").attr("x", 399).attr("y", 190).attr("font-size", 22).text("dashed : 1D");
</script>
</body></html>
